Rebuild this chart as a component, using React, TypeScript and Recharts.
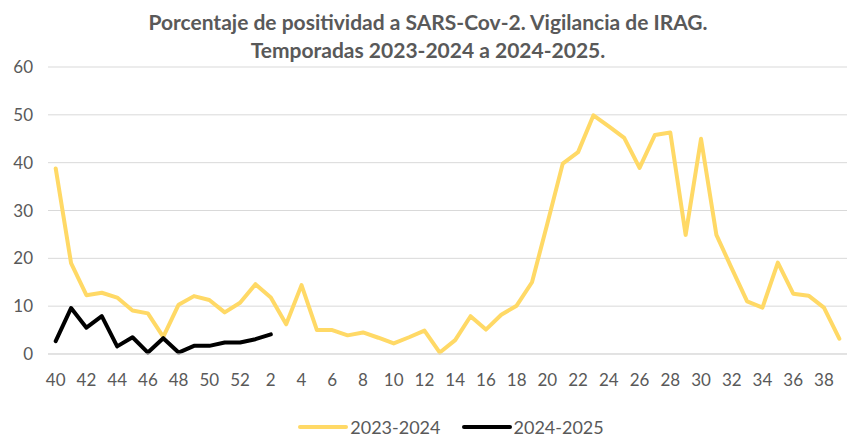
import React from "react";
import { LineChart, Line, XAxis, YAxis, CartesianGrid } from "recharts";

const weeks: string[] = [
  "40","41","42","43","44","45","46","47","48","49","50","51","52",
  "1","2","3","4","5","6","7","8","9","10","11","12","13","14","15","16","17","18","19","20",
  "21","22","23","24","25","26","27","28","29","30","31","32","33","34","35","36","37","38","39",
];

const season2324: number[] = [
  38.8, 19.0, 12.3, 12.8, 11.8, 9.1, 8.5, 3.6, 10.3, 12.1, 11.3, 8.7, 10.7,
  14.6, 11.8, 6.2, 14.4, 5.0, 5.0, 3.9, 4.5, 3.4, 2.2, 3.5, 4.9, 0.3, 2.9, 7.9, 5.1, 8.2, 10.1, 15.0, 27.3,
  39.8, 42.2, 49.9, 47.6, 45.2, 38.9, 45.8, 46.3, 24.9, 45.0, 24.9, 17.9, 11.0, 9.7, 19.1, 12.6, 12.2, 9.7, 3.2,
];

const season2425: number[] = [
  2.7, 9.6, 5.5, 7.9, 1.6, 3.5, 0.3, 3.3, 0.3, 1.7, 1.7, 2.4, 2.4, 3.1, 4.1,
];

const yTicks: number[] = [0, 10, 20, 30, 40, 50, 60];

const seriesNames = ["2023-2024", "2024-2025"];
const seriesColors = ["#FFD966", "#000000"];

const data = weeks.map((w, i) => ({
  week: w,
  s1: season2324[i] ?? null,
  s2: i < season2425.length ? season2425[i] : null,
}));

const textColor = "#595959";
const font = "Lato, 'Open Sans', sans-serif";

export default function App() {
  return (
    <div style={{ position: "absolute", left: 0, top: 0, width: 849, height: 437, background: "#fff", overflow: "hidden" }}>
      <div
        style={{
          position: "absolute",
          left: 0,
          top: 8,
          width: 856,
          textAlign: "center",
          fontFamily: font,
          fontWeight: 700,
          fontSize: 21,
          lineHeight: "28px",
          color: textColor,
        }}
      >
        Porcentaje de positividad a SARS-Cov-2. Vigilancia de IRAG.
        <br />
        Temporadas 2023-2024 a 2024-2025.
      </div>
      <LineChart
        width={849}
        height={437}
        data={data}
        margin={{ top: 67, right: 2, bottom: 43, left: 0 }}
      >
        <CartesianGrid vertical={false} stroke="#D9D9D9" strokeWidth={1} />
        <XAxis
          dataKey="week"
          interval={1}
          axisLine={{ stroke: "#D9D9D9" }}
          tickLine={false}
          tickSize={0}
          tickMargin={20}
          height={40}
          padding={{ left: 7.7, right: 7.7 }}
          tick={{ fill: textColor, fontSize: 17, fontFamily: font }}
        />
        <YAxis
          domain={[0, 60]}
          ticks={yTicks}
          width={48}
          axisLine={false}
          tickLine={false}
          tickSize={0}
          tickMargin={15}
          tick={{ fill: textColor, fontSize: 17, fontFamily: font }}
        />
        <Line
          dataKey="s1"
          name={seriesNames[0]}
          stroke={seriesColors[0]}
          strokeWidth={4}
          dot={false}
          strokeLinejoin="round"
          strokeLinecap="round"
          isAnimationActive={false}
        />
        <Line
          dataKey="s2"
          name={seriesNames[1]}
          stroke={seriesColors[1]}
          strokeWidth={4}
          dot={false}
          strokeLinejoin="round"
          strokeLinecap="round"
          isAnimationActive={false}
        />
      </LineChart>
      <div
        style={{
          position: "absolute",
          left: 26,
          top: 418,
          width: 849,
          display: "flex",
          justifyContent: "center",
          alignItems: "center",
          fontFamily: font,
          fontSize: 18,
          lineHeight: "18px",
          color: textColor,
          gap: 20,
        }}
      >
        {seriesNames.map((n, i) => (
          <div key={n} style={{ display: "flex", alignItems: "center" }}>
            <svg width={52} height={8} style={{ marginRight: 1 }}>
              <line x1={3} y1={4} x2={49} y2={4} stroke={seriesColors[i]} strokeWidth={4} strokeLinecap="round" />
            </svg>
            <span>{n}</span>
          </div>
        ))}
      </div>
    </div>
  );
}
